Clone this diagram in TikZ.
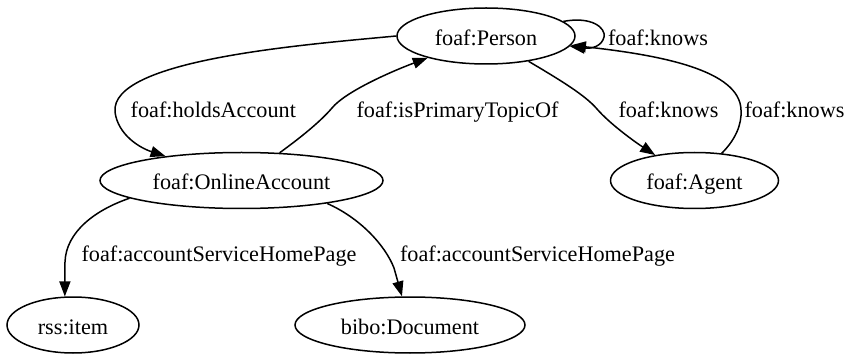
\documentclass[tikz,border=0pt]{standalone}
\usepackage{fontspec}
\setmainfont{Liberation Serif}
\usetikzlibrary{shapes.geometric,arrows.meta}
\begin{document}
\begin{tikzpicture}[x=1pt,y=-1pt,
  every node/.style={font=\fontsize{22.2}{26}\selectfont, text height=19pt, text depth=0pt},
  entity/.style={draw, ellipse, line width=1.5pt, inner sep=0pt, minimum height=56pt},
  edge/.style={line width=1.5pt, -{Triangle[length=15pt,width=11pt]}},
  lbl/.style={inner sep=0pt}]
\path[use as bounding box] (0,0) rectangle (848,355);
\node[entity, minimum width=178pt] (person) at (486,36) {foaf:Person};
\node[entity, minimum width=283pt] (online) at (241.5,180.5) {foaf:OnlineAccount};
\node[entity, minimum width=168pt] (agent) at (694.5,180.5) {foaf:Agent};
\node[entity, minimum width=132pt] (rss) at (73,325) {rss:item};
\node[entity, minimum width=230pt] (bibo) at (410,325) {bibo:Document};
% edges
\draw[edge] (person.west) .. controls (300,45) and (110,60) .. (115,112) .. controls (118,135) and (140,148) .. (online);
\draw[edge] (online) .. controls (300,138) and (320,122) .. (332,108) .. controls (345,92) and (390,72) .. (person);
\draw[edge] (person) .. controls (592,16) and (606,28) .. (604,37) .. controls (602,46) and (592,49) .. (person);
\draw[edge] (person) .. controls (560,80) and (585,95) .. (597,109) .. controls (610,124) and (635,142) .. (agent);
\draw[edge] (agent) .. controls (735,140) and (742,125) .. (741,110) .. controls (740,70) and (660,55) .. (person);
\draw[edge] (online.189) .. controls (95,210) and (66,232) .. (65,262) -- (rss.106);
\draw[edge] (online.-15) .. controls (360,218) and (385,245) .. (394,268) -- (bibo);
% labels
\node[lbl] (lhold) at (213.3,107.8) {foaf:holdsAccount};
\node[lbl] (lprim) at (457.5,107.8) {foaf:isPrimaryTopicOf};
\node[lbl] (lloop) at (658,36.5) {foaf:knows};
\node[lbl] (lk1) at (668.5,107.8) {foaf:knows};
\node[lbl] (lk2) at (794.5,107.8) {foaf:knows};
\node[lbl] (lacc1) at (219,252.2) {foaf:accountServiceHomePage};
\node[lbl] (lacc2) at (537.5,252.2) {foaf:accountServiceHomePage};
\end{tikzpicture}
\end{document}
